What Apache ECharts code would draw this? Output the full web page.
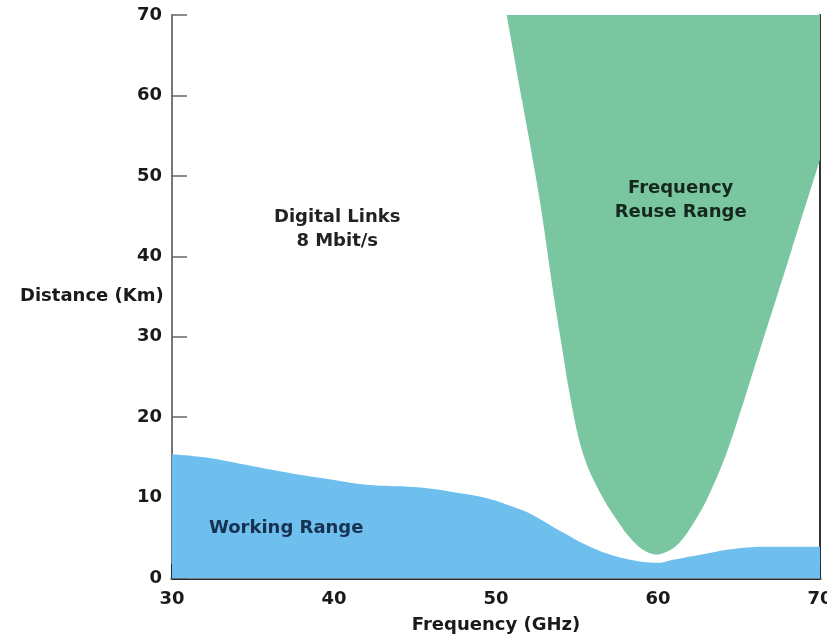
<!DOCTYPE html>
<html>
<head>
<meta charset="utf-8">
<script src="https://cdn.jsdelivr.net/npm/echarts@6/dist/echarts.min.js"></script>
<style>
html,body{margin:0;padding:0;background:#fff;}
#chart{width:827px;height:642px;}
</style>
</head>
<body>
<div id="chart"></div>
<script>
// Working Range (blue) upper boundary: [frequency GHz, distance km]
const workingRange = [
  [30, 15.4], [32, 15.0], [35, 13.9], [38, 12.8], [40, 12.2], [42, 11.6],
  [45, 11.3], [47.3, 10.7], [49.5, 9.9], [51, 8.9], [52, 8.1], [54, 5.8],
  [56, 3.7], [58, 2.4], [60, 1.9], [61, 2.3], [62.6, 2.9], [65, 3.7],
  [67, 3.9], [70, 3.9]
];
// Frequency Reuse Range (green) lower boundary: [frequency GHz, distance km]
const reuseRange = [
  [50.66, 70], [51.6, 59.5], [52.7, 47.0], [53.6, 34.6], [54.05, 29.0],
  [54.5, 23.4], [55.1, 17.4], [55.7, 13.6], [56.4, 10.7], [57.0, 8.6],
  [57.6, 6.8], [58.1, 5.4], [59.0, 3.6], [59.9, 2.9], [61.0, 3.8],
  [61.8, 5.6], [63.0, 9.7], [64.3, 15.9], [66.3, 28.4], [68.25, 40.8], [70, 52]
];
// Text annotations: [frequency, distance, text]
const annotations = [
  [40.2, 43.3, 'Digital Links\n8 Mbit/s'],
  [61.4, 47.0, 'Frequency\nReuse Range'],
  [37.05, 6.2, 'Working Range']
];
const annotationColors = ['#222222', '#16281e', '#173150'];
const xTicks = [30, 35, 40, 45, 50, 55, 60, 65, 70];
const yTicks = [0, 10, 20, 30, 40, 50, 60, 70];
const yAxisTitle = 'Distance (Km)';
const xAxisTitle = 'Frequency (GHz)';

const FONT = 'DejaVu Sans';
const chart = echarts.init(document.getElementById('chart'), null, {renderer: 'canvas'});
chart.setOption({
  animation: false,
  backgroundColor: '#ffffff',
  title: {
    text: yAxisTitle, left: 20, top: 287, padding: 0,
    textStyle: {fontFamily: FONT, fontWeight: 'bold', fontSize: 18, color: '#1a1a1a'}
  },
  grid: {left: 172, top: 15, right: 7, bottom: 64, containLabel: false, outerBoundsMode: 'none'},
  xAxis: [{
    type: 'value', min: xTicks[0], max: xTicks[xTicks.length - 1], interval: 5,
    name: xAxisTitle, nameLocation: 'middle', nameGap: 38,
    nameTextStyle: {fontFamily: FONT, fontWeight: 'bold', fontSize: 18, color: '#1a1a1a'},
    axisLine: {show: true, lineStyle: {color: '#1c2b38', width: 3}},
    axisTick: {show: true, inside: true, length: 14, lineStyle: {color: '#1c2b38', width: 2}},
    axisLabel: {
      margin: 12, fontFamily: FONT, fontWeight: 'bold', fontSize: 18, color: '#1a1a1a',
      formatter: v => (v % 10 === 0 ? String(v) : '')
    },
    splitLine: {show: false}
  }, {
    type: 'value', position: 'top', min: xTicks[0], max: xTicks[xTicks.length - 1],
    axisLine: {show: true, lineStyle: {color: '#808080', width: 2}},
    axisTick: {show: false}, axisLabel: {show: false}, splitLine: {show: false}
  }],
  yAxis: [{
    type: 'value', min: yTicks[0], max: yTicks[yTicks.length - 1], interval: 10,
    axisLine: {show: true, lineStyle: {color: '#777777', width: 2}},
    axisTick: {show: true, inside: true, length: 15, lineStyle: {color: '#666666', width: 1.5}},
    axisLabel: {margin: 10, fontFamily: FONT, fontWeight: 'bold', fontSize: 18, color: '#1a1a1a'},
    splitLine: {show: false}
  }, {
    type: 'value', position: 'right', min: yTicks[0], max: yTicks[yTicks.length - 1],
    axisLine: {show: true, lineStyle: {color: '#333333', width: 2}},
    axisTick: {show: false}, axisLabel: {show: false}, splitLine: {show: false}
  }],
  series: [{
    type: 'line', name: 'Frequency Reuse Range', data: reuseRange,
    smooth: 0.3, symbol: 'none', lineStyle: {width: 0},
    areaStyle: {origin: 'end', color: '#79c6a0', opacity: 1},
    z: 2
  }, {
    type: 'line', name: 'Working Range', data: workingRange,
    smooth: 0.4, symbol: 'none', lineStyle: {width: 0},
    areaStyle: {origin: 'start', color: '#6ebfee', opacity: 1},
    z: 3
  }, {
    type: 'scatter', name: 'labels', symbolSize: 0, silent: true, z: 5,
    itemStyle: {opacity: 1},
    data: annotations.map((a, i) => ({
      value: [a[0], a[1]],
      label: {color: annotationColors[i]}
    })),
    label: {
      show: true, position: 'inside', formatter: p => annotations[p.dataIndex][2],
      fontFamily: FONT, fontWeight: 'bold', fontSize: 18, lineHeight: 24, align: 'center'
    }
  }]
});
</script>
</body>
</html>
